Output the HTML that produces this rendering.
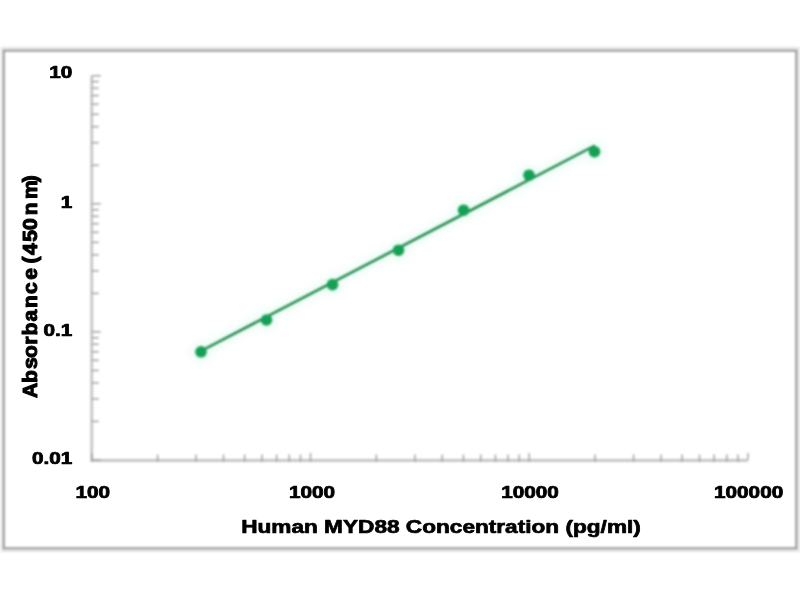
<!DOCTYPE html>
<html><head><meta charset="utf-8"><title>Human MYD88 ELISA standard curve</title>
<style>
html,body{margin:0;padding:0;background:#fff;}
body{width:800px;height:600px;overflow:hidden;}
svg{display:block}
text{font-family:"Liberation Sans",Arial,Helvetica,sans-serif;font-weight:bold;fill:#000;stroke:#000;stroke-width:0.7px;stroke-linejoin:round;}
</style></head><body>
<svg width="800" height="600" viewBox="0 0 800 600">
<defs>
<filter id="bl" x="-5%" y="-5%" width="110%" height="110%"><feGaussianBlur stdDeviation="0.8"/></filter>
<filter id="bt" x="-5%" y="-5%" width="110%" height="110%"><feGaussianBlur stdDeviation="0.65"/></filter>
<filter id="halo" x="-10%" y="-10%" width="120%" height="120%"><feGaussianBlur stdDeviation="4"/></filter>
</defs>
<rect width="800" height="600" fill="#fff"/>

<g filter="url(#halo)" opacity="0.14">
<line x1="201" y1="351" x2="594" y2="146" stroke="#5fe8a8" stroke-width="9"/>
<circle cx="201" cy="351.8" r="10" fill="#5fe8a8"/>
<circle cx="266.5" cy="320" r="10" fill="#5fe8a8"/>
<circle cx="332.5" cy="284.6" r="10" fill="#5fe8a8"/>
<circle cx="398.5" cy="250.2" r="10" fill="#5fe8a8"/>
<circle cx="463.6" cy="210.2" r="10" fill="#5fe8a8"/>
<circle cx="529" cy="175.2" r="10" fill="#5fe8a8"/>
<circle cx="594.5" cy="151.7" r="10" fill="#5fe8a8"/>
</g>
<g filter="url(#bl)">
<rect x="2.2" y="48.4" width="796.2" height="502.2" fill="none" stroke="#e6e6e6" stroke-width="3"/>
<rect x="3.8" y="50.7" width="792.5" height="497.6" fill="none" stroke="#989898" stroke-width="2.1"/>
<g stroke="#c2c2c2" stroke-width="2.6" fill="none">
<polyline points="91.75,75.76 91.75,460.4 748.0,460.4"/>
</g>
<g stroke="#9c9c9c" stroke-width="1.4">
<line x1="91.75" y1="460.0" x2="100.75" y2="460.0"/>
<line x1="91.75" y1="421.4" x2="98.75" y2="421.4"/>
<line x1="91.75" y1="398.9" x2="98.75" y2="398.9"/>
<line x1="91.75" y1="382.9" x2="98.75" y2="382.9"/>
<line x1="91.75" y1="370.5" x2="98.75" y2="370.5"/>
<line x1="91.75" y1="360.3" x2="98.75" y2="360.3"/>
<line x1="91.75" y1="351.8" x2="98.75" y2="351.8"/>
<line x1="91.75" y1="344.3" x2="98.75" y2="344.3"/>
<line x1="91.75" y1="337.8" x2="98.75" y2="337.8"/>
<line x1="91.75" y1="331.9" x2="100.75" y2="331.9"/>
<line x1="91.75" y1="293.4" x2="98.75" y2="293.4"/>
<line x1="91.75" y1="270.8" x2="98.75" y2="270.8"/>
<line x1="91.75" y1="254.8" x2="98.75" y2="254.8"/>
<line x1="91.75" y1="242.4" x2="98.75" y2="242.4"/>
<line x1="91.75" y1="232.3" x2="98.75" y2="232.3"/>
<line x1="91.75" y1="223.7" x2="98.75" y2="223.7"/>
<line x1="91.75" y1="216.3" x2="98.75" y2="216.3"/>
<line x1="91.75" y1="209.7" x2="98.75" y2="209.7"/>
<line x1="91.75" y1="203.8" x2="100.75" y2="203.8"/>
<line x1="91.75" y1="165.3" x2="98.75" y2="165.3"/>
<line x1="91.75" y1="142.7" x2="98.75" y2="142.7"/>
<line x1="91.75" y1="126.7" x2="98.75" y2="126.7"/>
<line x1="91.75" y1="114.3" x2="98.75" y2="114.3"/>
<line x1="91.75" y1="104.2" x2="98.75" y2="104.2"/>
<line x1="91.75" y1="95.6" x2="98.75" y2="95.6"/>
<line x1="91.75" y1="88.2" x2="98.75" y2="88.2"/>
<line x1="91.75" y1="81.6" x2="98.75" y2="81.6"/>
<line x1="91.75" y1="75.8" x2="100.75" y2="75.8"/>
<line x1="91.8" y1="462.0" x2="91.8" y2="453.0"/>
<line x1="157.6" y1="462.0" x2="157.6" y2="454.5"/>
<line x1="196.1" y1="462.0" x2="196.1" y2="454.5"/>
<line x1="223.5" y1="462.0" x2="223.5" y2="454.5"/>
<line x1="244.6" y1="462.0" x2="244.6" y2="454.5"/>
<line x1="262.0" y1="462.0" x2="262.0" y2="454.5"/>
<line x1="276.6" y1="462.0" x2="276.6" y2="454.5"/>
<line x1="289.3" y1="462.0" x2="289.3" y2="454.5"/>
<line x1="300.5" y1="462.0" x2="300.5" y2="454.5"/>
<line x1="310.5" y1="462.0" x2="310.5" y2="453.0"/>
<line x1="376.4" y1="462.0" x2="376.4" y2="454.5"/>
<line x1="414.9" y1="462.0" x2="414.9" y2="454.5"/>
<line x1="442.2" y1="462.0" x2="442.2" y2="454.5"/>
<line x1="463.4" y1="462.0" x2="463.4" y2="454.5"/>
<line x1="480.7" y1="462.0" x2="480.7" y2="454.5"/>
<line x1="495.4" y1="462.0" x2="495.4" y2="454.5"/>
<line x1="508.1" y1="462.0" x2="508.1" y2="454.5"/>
<line x1="519.2" y1="462.0" x2="519.2" y2="454.5"/>
<line x1="529.2" y1="462.0" x2="529.2" y2="453.0"/>
<line x1="595.1" y1="462.0" x2="595.1" y2="454.5"/>
<line x1="633.6" y1="462.0" x2="633.6" y2="454.5"/>
<line x1="661.0" y1="462.0" x2="661.0" y2="454.5"/>
<line x1="682.1" y1="462.0" x2="682.1" y2="454.5"/>
<line x1="699.5" y1="462.0" x2="699.5" y2="454.5"/>
<line x1="714.1" y1="462.0" x2="714.1" y2="454.5"/>
<line x1="726.8" y1="462.0" x2="726.8" y2="454.5"/>
<line x1="738.0" y1="462.0" x2="738.0" y2="454.5"/>
<line x1="748.0" y1="460.0" x2="748.0" y2="453.0"/>
</g>
<line x1="201" y1="351" x2="594" y2="146" stroke="#22864c" stroke-width="2.5" stroke-linecap="round"/>
<circle cx="201" cy="351.8" r="5.8" fill="#18a057"/>
<circle cx="266.5" cy="320" r="5.8" fill="#18a057"/>
<circle cx="332.5" cy="284.6" r="5.8" fill="#18a057"/>
<circle cx="398.5" cy="250.2" r="5.8" fill="#18a057"/>
<circle cx="463.6" cy="210.2" r="5.8" fill="#18a057"/>
<circle cx="529" cy="175.2" r="5.8" fill="#18a057"/>
<circle cx="594.5" cy="151.7" r="5.8" fill="#18a057"/>
</g><g filter="url(#bt)">
<text transform="translate(72.3,78.3) scale(1.33,1)" font-size="15.6" text-anchor="end">10</text>
<text transform="translate(72.3,207.5) scale(1.33,1)" font-size="15.6" text-anchor="end">1</text>
<text transform="translate(72.3,336) scale(1.33,1)" font-size="15.6" text-anchor="end">0.1</text>
<text transform="translate(72.3,464) scale(1.33,1)" font-size="15.6" text-anchor="end">0.01</text>
<text transform="translate(92.75,498.0) scale(1.33,1)" font-size="15.6" text-anchor="middle">100</text>
<text transform="translate(312.0,498.0) scale(1.33,1)" font-size="15.6" text-anchor="middle">1000</text>
<text transform="translate(529.95,498.0) scale(1.33,1)" font-size="15.6" text-anchor="middle">10000</text>
<text transform="translate(748.6,498.0) scale(1.33,1)" font-size="15.6" text-anchor="middle">100000</text>
<text transform="translate(441,533.0) scale(1.217,1)" font-size="18.6" text-anchor="middle">Human MYD88 Concentration (pg/ml)</text>
<text transform="translate(37.4,400.0) rotate(-90) scale(1.17,1.1)" font-size="18" style="stroke-width:0.95px" x="1.62 14.44 26.58 35.81 47.18 55.04 67.18 78.55 90.68 102.74 110.60 116.58 123.85 135.21 145.21 157.86 171.79 186.03">Absorbance (450nm)</text>
</g></svg></body></html>
